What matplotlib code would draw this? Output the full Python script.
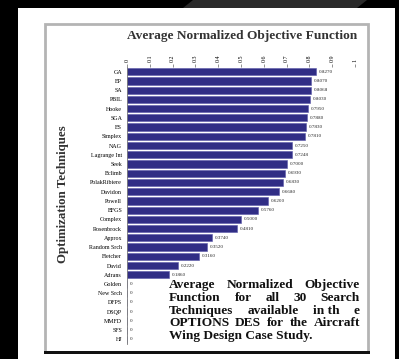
import matplotlib
matplotlib.use("Agg")
import matplotlib.pyplot as plt
from matplotlib.patches import Rectangle, Polygon
import numpy as np

W, H = 399, 359
DPI = 100

techniques = [
    "GA", "EP", "SA", "PBIL", "Hooke", "SGA", "ES", "Simplex", "NAG",
    "Lagrange Int", "Seek", "Bclimb", "PolakRibiere", "Davidon", "Powell",
    "BFGS", "Complex", "Rosenbrock", "Approx", "Random Srch", "Fletcher",
    "David", "Adrans", "Golden", "New Srch", "DFPS", "DSQP", "MMFD", "SFS", "HJ",
]
scores = [
    0.8270, 0.8070, 0.8068, 0.8030, 0.7950, 0.7880, 0.7830, 0.7810, 0.7250,
    0.7248, 0.7000, 0.6930, 0.6830, 0.6680, 0.6200, 0.5760, 0.5000, 0.4810,
    0.3740, 0.3520, 0.3160, 0.2220, 0.1860, 0.0, 0.0, 0.0, 0.0, 0.0, 0.0, 0.0,
]
x_ticks = [0, 0.1, 0.2, 0.3, 0.4, 0.5, 0.6, 0.7, 0.8, 0.9, 1]
x_tick_labels = ["0", "0.1", "0.2", "0.3", "0.4", "0.5", "0.6", "0.7", "0.8", "0.9", "1"]

title = "Average Normalized Objective Function"
y_title = "Optimization Techniques"
caption_lines = [
    ["Average", "Normalized", "Objective"],
    ["Function", "for", "all", "30", "Search"],
    ["Techniques", "available", "in th", "e"],
    ["OPTIONS", "DES", "for", "the", "Aircraft"],
    ["Wing Design Case Study."],
]

SERIF = ["Liberation Serif", "DejaVu Serif"]
BAR = "#302d85"

fig = plt.figure(figsize=(W / DPI, H / DPI), dpi=DPI, facecolor="black")


def fx(px):
    return px / W


def fy(py):
    return 1 - py / H


# page background and framed chart card
fig.add_artist(Rectangle((fx(18), fy(359)), fx(395) - fx(18), fy(8) - fy(359),
                         transform=fig.transFigure, facecolor="white",
                         edgecolor="none", zorder=0))
fig.add_artist(Polygon([(fx(193), fy(0)), (fx(367), fy(0)), (fx(357), fy(8)), (fx(183), fy(8))],
                       closed=True, transform=fig.transFigure, facecolor="#2a2a2a",
                       edgecolor="none", zorder=0))
fig.add_artist(Rectangle((fx(45), fy(352)), fx(368) - fx(45), fy(24) - fy(352),
                         transform=fig.transFigure, facecolor="white",
                         edgecolor="#b4b4b4", linewidth=2.0, zorder=1))
fig.add_artist(Rectangle((fx(44), fy(354)), fx(370) - fx(44), fy(351) - fy(354),
                         transform=fig.transFigure, facecolor="#111111",
                         edgecolor="none", zorder=2))

# bar chart area
top_px, bot_px = 67.1, 344.0
ax = fig.add_axes([fx(127), fy(bot_px), fx(355) - fx(127), fy(top_px) - fy(bot_px)])
ax.set_facecolor("none")
ax.set_zorder(3)

ypos = np.arange(len(techniques))
ax.barh(ypos, scores, height=0.78, color=BAR, edgecolor="#5a58a8", linewidth=0.4)
for yv, v in zip(ypos, scores):
    lab = f"{v:.4f}" if v > 0 else "0"
    ax.text(v + 0.012, yv, lab, fontsize=3.6, va="center", ha="left",
            family=SERIF, color="#222222")

ax.set_xlim(0, 1)
ax.set_ylim(len(techniques) - 0.5, -0.5)
ax.set_yticks(ypos)
ax.set_yticklabels(techniques, fontsize=4.3, family=SERIF)
ax.tick_params(axis="y", length=0, pad=3.5)
ax.xaxis.tick_top()
ax.set_xticks(x_ticks)
ax.set_xticklabels(x_tick_labels, fontsize=4.3, family=SERIF, rotation=90)
ax.tick_params(axis="x", length=2, width=0.5, pad=1.5, color="#666666")
for s in ["top", "right", "bottom"]:
    ax.spines[s].set_visible(False)
ax.spines["left"].set_linewidth(0.6)
ax.spines["left"].set_color("#777777")

fig.text(fx(242), fy(36), title, fontsize=9.6, fontweight="bold", family=SERIF,
         ha="center", va="center", color="#333333", zorder=4)
fig.text(fx(63), fy(194), y_title, fontsize=9.3, fontweight="bold", family=SERIF,
         ha="center", va="center", rotation=90, color="#333333", zorder=4)

# justified caption block
renderer = fig.canvas.get_renderer()
left_px, right_px = 169, 360
line_y = [285, 298, 311, 323.5, 336]
for words, ypx in zip(caption_lines, line_y):
    texts = [fig.text(0, fy(ypx), w, fontsize=9.6, fontweight="bold", family=SERIF,
                      ha="left", va="center", color="#111111", zorder=4) for w in words]
    widths = [t.get_window_extent(renderer).width for t in texts]
    if len(words) == 1:
        texts[0].set_x(fx(left_px))
        continue
    gap = (right_px - left_px - sum(widths)) / (len(words) - 1)
    x = left_px
    for t, wd in zip(texts, widths):
        t.set_x(fx(x))
        x += wd + gap

fig.savefig("out.png", dpi=DPI, facecolor=fig.get_facecolor())
